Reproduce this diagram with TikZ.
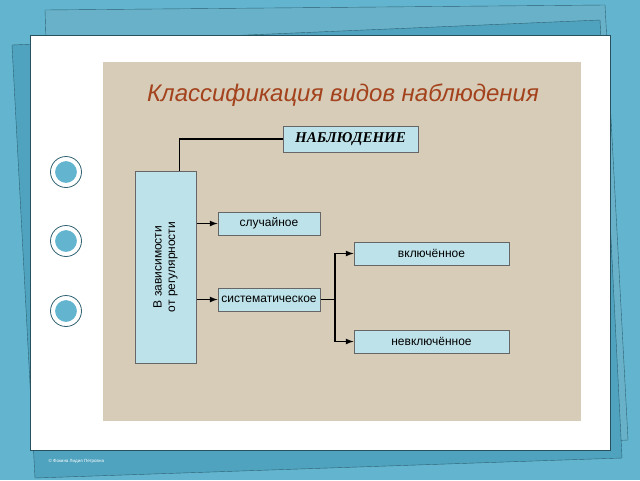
\documentclass[tikz,border=0pt]{standalone}
\usepackage{fontspec}
\setmainfont{Liberation Sans}
\newfontfamily\serifit{Liberation Serif}
\definecolor{sky}{HTML}{62B4CF}
\definecolor{sheet}{HTML}{4FA3BF}
\definecolor{cloth}{HTML}{D6CCB8}
\definecolor{boxfill}{HTML}{BEE2EA}
\definecolor{titlered}{HTML}{A3421C}
\tikzset{
  kbox/.style={draw=black!60, fill=boxfill, line width=1pt, inner sep=0pt, font=\fontsize{12}{13}\selectfont},
  link/.style={line width=1.6pt},
  arr/.style={link, -latex},
  ring/.style={draw=white, line width=4pt, fill=sky}
}
\begin{document}
\begin{tikzpicture}[x=1pt,y=-1pt]
  \useasboundingbox (0,0) rectangle (640,480);
  \fill[sky] (0,0) rectangle (640,480);
  % back sheets
  \fill[sheet!85, draw=sheet!60!black] (45,10) -- (605,5) -- (628,440) -- (60,470) -- cycle;
  \fill[sheet, draw=sheet!60!black] (12,45) -- (600,20) -- (622,458) -- (35,478) -- cycle;
  \fill[white, draw=sheet!50!black, line width=1pt] (30,35) rectangle (610,450);
  \node[font=\fontsize{4.5}{5}\selectfont, white, anchor=west] (credit) at (45,461) {© Фокина Лидия Петровна};
  % rings
  \foreach \y in {172,241,311} {
    \draw[ring] (66,\y) circle (13);
    \draw[sheet!60!black, line width=0.8pt] (66,\y) circle (15.5);
  }
  % cloth panel
  \fill[cloth] (103,62) rectangle (581,421);
  \node[font=\itshape\fontsize{24}{26}\selectfont, titlered] (title) at (343,95) {Классификация видов наблюдения};

  \node[kbox, minimum width=135, minimum height=26, font=\serifit\bfseries\itshape\fontsize{15}{16}\selectfont] (nabl) at (350.5,139) {НАБЛЮДЕНИЕ};
  \node[kbox, minimum width=61, minimum height=192] (regul) at (165.5,267) {};
  \node[rotate=90, align=center, font=\fontsize{12}{13.5}\selectfont] (regtext) at (regul.center) {В зависимости\\от регулярности};
  \node[kbox, minimum width=102, minimum height=23] (sluch) at (269,223.5) {случайное};
  \node[kbox, minimum width=102, minimum height=23] (sist) at (269,299.5) {систематическое};
  \node[kbox, minimum width=155, minimum height=23] (vkl) at (431.5,253.5) {включённое};
  \node[kbox, minimum width=155, minimum height=23] (nevkl) at (431.5,341.5) {невключённое};
  \coordinate (fork) at (335,299.5);

  \draw[link] (regul.north west) ++(45,0) |- (nabl.west);
  \draw[arr] (regul.east |- sluch) -- (sluch.west);
  \draw[arr] (regul.east |- sist) -- (sist.west);
  \draw[link] (sist.east) -- (fork);
  \draw[arr] (fork) |- (vkl.west);
  \draw[arr] (fork) |- (nevkl.west);
\end{tikzpicture}
\end{document}
